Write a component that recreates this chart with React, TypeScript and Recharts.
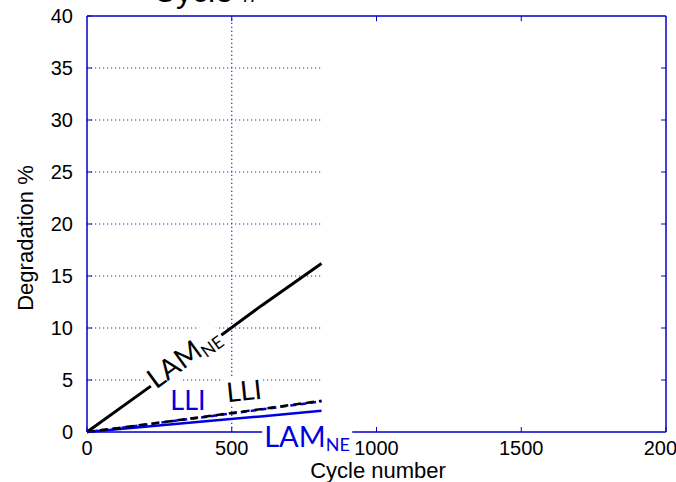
import React from "react";
import { Line, LineChart, ReferenceLine, XAxis, YAxis } from "recharts";

const cycles = [0, 200, 400, 600, 810];
const lamNeBlack = [0, 4.0, 8.0, 12.1, 16.2];
const lliBlack = [0, 0.72, 1.45, 2.2, 3.0];
const lliBlue = [0, 0.7, 1.42, 2.16, 2.95];
const lamNeBlue = [0, 0.5, 1.0, 1.5, 2.05];

const xTicks = [0, 500, 1000, 1500, 2000];
const yTicks = [0, 5, 10, 15, 20, 25, 30, 35, 40];
const gridY = [5, 10, 15, 20, 25, 30, 35];
const gridX = [500];
const gridEnd = 810;
const xMax = 2000;
const yMax = 40;

const axisBlue = "#0000c8";
const gridBlue = "#2020ff";
const tickFont = {
  fill: "#000",
  fontSize: 20,
  fontFamily: "'Liberation Sans', Arial, sans-serif",
};
const noteFont = "Lato, 'Open Sans', sans-serif";

const data = cycles.map((c, i) => ({
  cycle: c,
  lamNeBlack: lamNeBlack[i],
  lliBlack: lliBlack[i],
  lliBlue: lliBlue[i],
  lamNeBlue: lamNeBlue[i],
}));

function Note({
  x,
  y,
  angle = 0,
  color,
  size,
  main,
  sub,
}: {
  x: number;
  y: number;
  angle?: number;
  color: string;
  size: number;
  main: string;
  sub?: string;
}) {
  return (
    <div
      style={{
        position: "absolute",
        left: x,
        top: y,
        transform: `translate(-50%, -50%) rotate(${angle}deg)`,
        color,
        fontFamily: noteFont,
        fontSize: size,
        lineHeight: 1,
        background: "#fff",
        padding: "0 2px",
        whiteSpace: "nowrap",
      }}
    >
      {main}
      {sub ? (
        <sub style={{ fontSize: size * 0.62, verticalAlign: "-0.25em" }}>
          {sub}
        </sub>
      ) : null}
    </div>
  );
}

export default function App() {
  return (
    <div
      style={{
        position: "absolute",
        left: 0,
        top: 0,
        width: 676,
        height: 482,
        background: "#fff",
        overflow: "hidden",
      }}
    >
      <LineChart
        width={676}
        height={482}
        data={data}
        margin={{ top: 16, right: 10, left: 0, bottom: 0 }}
      >
        <XAxis
          dataKey="cycle"
          type="number"
          domain={[0, xMax]}
          ticks={xTicks}
          height={50}
          tick={tickFont}
          tickSize={-5}
          tickMargin={14}
          axisLine={{ stroke: axisBlue, strokeWidth: 1.5 }}
          tickLine={{ stroke: axisBlue }}
          interval={0}
        />
        <YAxis
          type="number"
          domain={[0, yMax]}
          ticks={yTicks}
          width={87}
          tick={tickFont}
          tickSize={-5}
          tickMargin={19}
          axisLine={{ stroke: axisBlue, strokeWidth: 1.5 }}
          tickLine={{ stroke: axisBlue }}
          interval={0}
        />

        {gridY.map((v) => (
          <ReferenceLine
            key={`gy${v}`}
            segment={[
              { x: 0, y: v },
              { x: gridEnd, y: v },
            ]}
            stroke={gridBlue}
            strokeDasharray="1.2 2.8"
            strokeWidth={1.2}
          />
        ))}
        {gridX.map((v) => (
          <ReferenceLine
            key={`gx${v}`}
            x={v}
            stroke={gridBlue}
            strokeDasharray="1.2 2.8"
            strokeWidth={1.2}
          />
        ))}

        {/* top and right frame with inward ticks */}
        <ReferenceLine y={yMax} stroke={axisBlue} strokeWidth={1.5} />
        <ReferenceLine x={xMax} stroke={axisBlue} strokeWidth={1.5} />
        {xTicks.slice(1, -1).map((v) => (
          <ReferenceLine
            key={`tt${v}`}
            segment={[
              { x: v, y: yMax },
              { x: v, y: yMax - 0.5 },
            ]}
            stroke={axisBlue}
          />
        ))}
        {yTicks.slice(1, -1).map((v) => (
          <ReferenceLine
            key={`rt${v}`}
            segment={[
              { x: xMax, y: v },
              { x: xMax - 17, y: v },
            ]}
            stroke={axisBlue}
          />
        ))}

        <Line
          dataKey="lamNeBlue"
          stroke="#0000e0"
          strokeWidth={2.5}
          dot={false}
          isAnimationActive={false}
        />
        <Line
          dataKey="lliBlue"
          stroke="#0000e0"
          strokeWidth={2.5}
          strokeDasharray="6 4"
          strokeDashoffset={5}
          dot={false}
          isAnimationActive={false}
        />
        <Line
          dataKey="lliBlack"
          stroke="#000"
          strokeWidth={2.5}
          strokeDasharray="8 5"
          dot={false}
          isAnimationActive={false}
        />
        <Line
          dataKey="lamNeBlack"
          stroke="#000"
          strokeWidth={3}
          dot={false}
          isAnimationActive={false}
        />
      </LineChart>

      {/* title, mostly cut off at the top */}
      <div
        style={{
          position: "absolute",
          left: 153,
          top: -25,
          fontFamily: "'Liberation Sans', Arial, sans-serif",
          fontSize: 32,
          lineHeight: 1,
          color: "#000",
          whiteSpace: "nowrap",
        }}
      >
        Cycle #
      </div>
      <div
        style={{
          position: "absolute",
          left: 26,
          top: 238,
          transform: "translate(-50%, -50%) rotate(-90deg)",
          fontFamily: "'Liberation Sans', Arial, sans-serif",
          fontSize: 22,
          lineHeight: 1,
          whiteSpace: "nowrap",
        }}
      >
        Degradation %
      </div>
      <div
        style={{
          position: "absolute",
          left: 378,
          top: 471,
          transform: "translate(-50%, -50%)",
          fontFamily: "'Liberation Sans', Arial, sans-serif",
          fontSize: 22,
          lineHeight: 1,
          whiteSpace: "nowrap",
        }}
      >
        Cycle number
      </div>

      <Note x={184} y={358} angle={-36} color="#000" size={28} main="LAM" sub="NE" />
      <Note x={188} y={399} color="#0000e0" size={27} main="LLI" />
      <Note x={244} y={390} angle={-6} color="#000" size={27} main="LLI" />
      <Note x={307} y={437} color="#0000e0" size={29} main="LAM" sub="NE" />
    </div>
  );
}
